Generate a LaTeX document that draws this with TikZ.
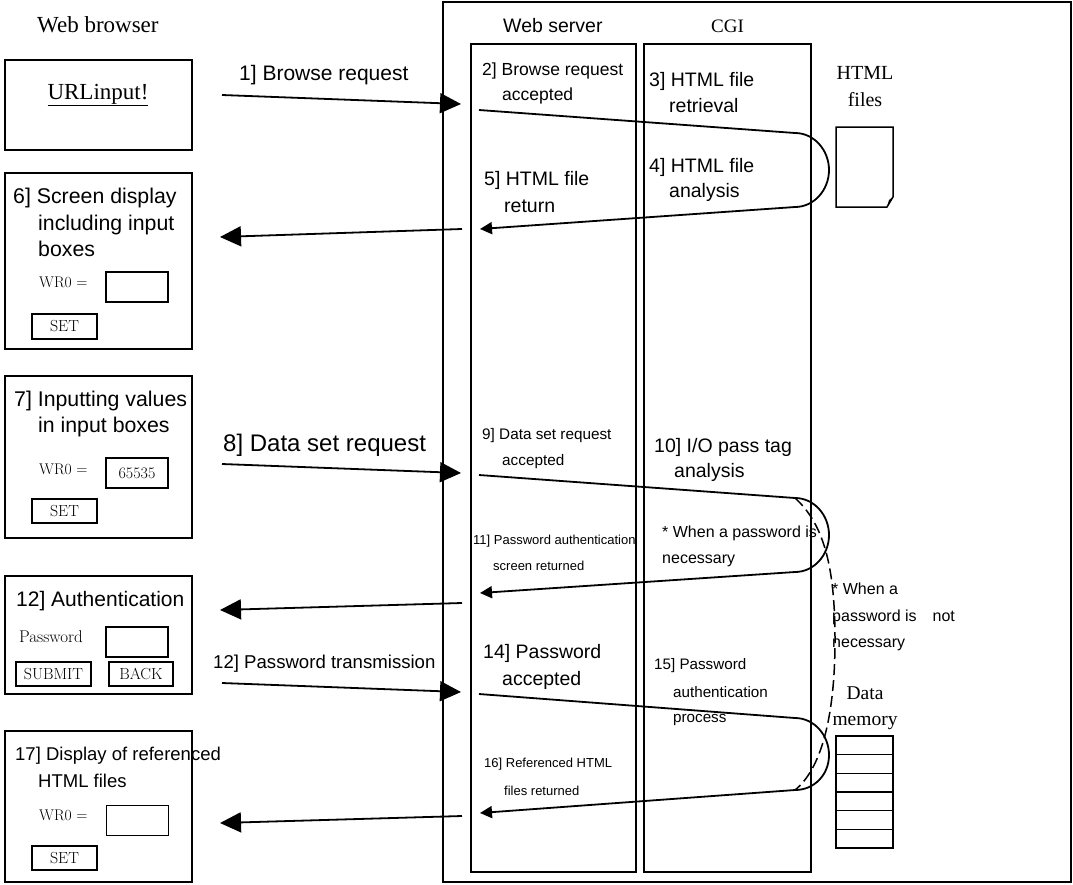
\documentclass[tikz,border=0pt]{standalone}
\usepackage{fontspec}
\newfontfamily\sansf{Liberation Sans}
\newfontfamily\tmsf{Liberation Serif}
\usetikzlibrary{arrows.meta}
\begin{document}
\begin{tikzpicture}[x=1pt,y=-1pt,
  sf/.style={font={\sansf\fontsize{#1}{#1}\selectfont}, inner sep=0pt, anchor=base west},
  sr/.style={font={\tmsf\fontsize{#1}{#1}\selectfont}, inner sep=0pt, anchor=base},
  lm/.style={font={\fontsize{#1}{#1}\selectfont}, inner sep=0pt, anchor=base west},
  box/.style={draw, line width=2pt},
  btn/.style={draw, line width=1.3pt, inner sep=0pt, font={\fontsize{16}{16}\selectfont}},
  inbox/.style={draw, line width=1.8pt, inner sep=0pt, minimum width=62pt, minimum height=30pt, font={\fontsize{16}{16}\selectfont}},
  bigarrow/.style={line width=1.8pt, -{Triangle[length=21pt,width=20pt]}},
  smallarrow/.style={line width=1.8pt, -{Triangle[length=12pt,width=12pt]}},
  dashline/.style={line width=1.5pt, dash pattern=on 11pt off 5pt},
]
\useasboundingbox (0,0) rectangle (1073,884);
\fill[white] (0,0) rectangle (1073,884);

% ---------- server frame and columns ----------
\draw[line width=1.5pt] (443,2) rectangle (1071,882);
\draw[box] (471,44) rectangle (636,872);
\draw[box] (644,44) rectangle (811,872);
\node[sf=19.5] (ws) at (503,32) {Web server};
\node[sr=19, anchor=base west] (cgi) at (711,32) {CGI};

% ---------- browser side ----------
\node[sr=23, anchor=base west] (wb) at (37,32) {Web browser};

% box 1
\draw[box] (5,60) rectangle (192,150);
\node[sr=23] (url) at (98,99) {\underline{URLinput!}};

% box 6
\draw[box] (5,173) rectangle (192,349);
\node[sf=21.3] (t6a) at (13,203) {6] Screen display};
\node[sf=21.3] (t6b) at (38,230) {including input};
\node[sf=21.3] (t6c) at (38,256) {boxes};
\node[lm=15.5] (wr6) at (39,287) {WR0 =};
\node[inbox] (in6) at (137,287) {};
\node[btn, minimum width=65pt, minimum height=25pt] (set6) at (64.5,326.5) {SET};

% box 7
\draw[box] (5,376) rectangle (192,538);
\node[sf=21.3] (t7a) at (14,406) {7] Inputting values};
\node[sf=21.3] (t7b) at (38,432) {in input boxes};
\node[lm=15.5] (wr7) at (39,474) {WR0 =};
\node[inbox] (in7) at (137,473) {65535};
\node[btn, minimum width=65pt, minimum height=24pt] (set7) at (64.5,511) {SET};

% box 12
\draw[box] (5,576) rectangle (192,694);
\node[sf=21] (t12a) at (16,606) {12] Authentication};
\node[lm=17] (pw) at (19,642) {Password};
\node[inbox] (in12) at (137,642) {};
\node[btn, minimum width=75pt, minimum height=24pt] (submit) at (53.5,674) {SUBMIT};
\node[btn, minimum width=64pt, minimum height=24pt] (back) at (141,674) {BACK};

% box 17
\draw[box] (5,731) rectangle (192,882);
\node[sf=18.5] (t17a) at (15,760) {17] Display of referenced};
\node[sf=18.5] (t17b) at (38,787) {HTML files};
\node[lm=15.5] (wr17) at (39,820) {WR0 =};
\node[inbox] (in17) at (137.5,820.5) {};
\node[btn, minimum width=65pt, minimum height=24pt] (set17) at (64.5,858) {SET};

% ---------- big arrows between browser and server ----------
\coordinate (a1s) at (222,95);  \coordinate (a1e) at (461,104);
\coordinate (a6s) at (462,229); \coordinate (a6e) at (220,237);
\coordinate (a8s) at (222,464); \coordinate (a8e) at (461,473);
\coordinate (a11s) at (462,603); \coordinate (a11e) at (220,610);
\coordinate (a12s) at (222,683); \coordinate (a12e) at (461,692);
\coordinate (a17s) at (462,816); \coordinate (a17e) at (220,823);
\draw[bigarrow] (a1s) -- (a1e);
\draw[bigarrow] (a6s) -- (a6e);
\draw[bigarrow] (a8s) -- (a8e);
\draw[bigarrow] (a11s) -- (a11e);
\draw[bigarrow] (a12s) -- (a12e);
\draw[bigarrow] (a17s) -- (a17e);
\node[sf=21] (l1) at (239,80) {1] Browse request};
\node[sf=24] (l8) at (223,451) {8] Data set request};
\node[sf=18.6] (l12) at (213,668) {12] Password transmission};

% ---------- loops inside server ----------
\coordinate (p1a) at (479,110); \coordinate (p1b) at (795,133); \coordinate (p1c) at (829,170);
\coordinate (p1d) at (795,207); \coordinate (p1e) at (480,229);
\draw[smallarrow] (p1a) -- (p1b) .. controls +(19,0) and +(0,-20) .. (p1c) .. controls +(0,20) and +(19,0) .. (p1d) -- (p1e);

\coordinate (p2a) at (479,475); \coordinate (p2b) at (795,498); \coordinate (p2c) at (829,535);
\coordinate (p2d) at (795,572); \coordinate (p2e) at (480,593);
\draw[smallarrow] (p2a) -- (p2b) .. controls +(19,0) and +(0,-20) .. (p2c) .. controls +(0,20) and +(19,0) .. (p2d) -- (p2e);

\coordinate (p3a) at (479,694); \coordinate (p3b) at (795,718); \coordinate (p3c) at (829,755);
\coordinate (p3d) at (795,790); \coordinate (p3e) at (480,813);
\draw[smallarrow] (p3a) -- (p3b) .. controls +(19,0) and +(0,-20) .. (p3c) .. controls +(0,20) and +(19,0) .. (p3d) -- (p3e);

% dashed bypass
\coordinate (dm) at (835,640);
\draw[dashline] (p2b) .. controls (825,525) and (835,570) .. (dm) .. controls (835,720) and (820,770) .. (p3d);

% ---------- server texts ----------
\node[sf=17.5] (s2a) at (482,75) {2] Browse request};
\node[sf=17.5] (s2b) at (502,100) {accepted};
\node[sf=19.5] (s3a) at (649,86) {3] HTML file};
\node[sf=19.5] (s3b) at (669,112) {retrieval};
\node[sf=19.5] (s4a) at (649,172) {4] HTML file};
\node[sf=19.5] (s4b) at (669,197) {analysis};
\node[sf=19.5] (s5a) at (484,185) {5] HTML file};
\node[sf=19.5] (s5b) at (504,212) {return};

\node[sf=15.3] (s9a) at (482,439) {9] Data set request};
\node[sf=15.3] (s9b) at (502,465) {accepted};
\node[sf=19.5] (s10a) at (654,452) {10] I/O pass tag};
\node[sf=19.5] (s10b) at (674,477) {analysis};
\node[sf=16] (wa) at (662,537) {* When a password is};
\node[sf=16] (wb2) at (662,563) {necessary};
\node[sf=13] (s11a) at (473,544) {11] Password authentication};
\node[sf=13] (s11b) at (493,570) {screen returned};
\node[sf=16] (na) at (832,594) {* When a};
\node[sf=16] (nb) at (832,621) {password is\hspace{16pt}not};
\node[sf=16] (nc) at (832,647) {necessary};

\node[sf=19.5] (s14a) at (483,658) {14] Password};
\node[sf=19.5] (s14b) at (502,685) {accepted};
\node[sf=15.2] (s15a) at (654,669) {15] Password};
\node[sf=15.2] (s15b) at (673,697) {authentication};
\node[sf=15.2] (s15c) at (673,722) {process};
\node[sf=13] (s16a) at (484,767) {16] Referenced HTML};
\node[sf=13] (s16b) at (504,795) {files returned};

% ---------- HTML files icon ----------
\node[sr=20] (hf1) at (865,79) {HTML};
\node[sr=20] (hf2) at (865,106) {files};
\draw[line width=1.5pt] (836,127) -- (893,127) -- (893,197) -- (887,207) -- (836,207) -- cycle;
\fill (893,197) -- (887,207) -- (889,200) -- cycle;

% ---------- data memory ----------
\node[sr=19.5] (dm1) at (865,699) {Data};
\node[sr=19.5] (dm2) at (865,725) {memory};
\draw[line width=1.5pt] (836,736) rectangle (893,848);
\foreach \k in {1,...,5} {
  \draw[line width=1.5pt] (836,{736+18.67*\k}) -- (893,{736+18.67*\k});
}
\end{tikzpicture}
\end{document}
